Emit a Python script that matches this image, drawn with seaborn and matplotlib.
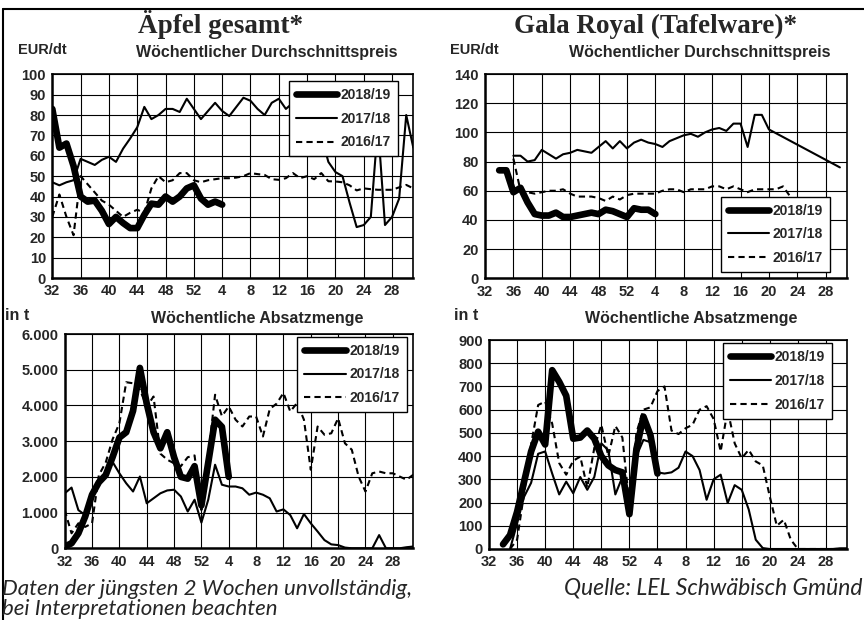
import numpy as np
import pandas as pd
import matplotlib
matplotlib.use("Agg")
import matplotlib.pyplot as plt
from matplotlib.lines import Line2D
from matplotlib.ticker import FuncFormatter
import seaborn as sns

# Season runs from KW 32 to KW 31 of the following year
weeks = list(range(32, 53)) + list(range(1, 32))
tick_weeks = [32, 36, 40, 44, 48, 52, 4, 8, 12, 16, 20, 24, 28]
seasons = ["2018/19", "2017/18", "2016/17"]
nan = np.nan

# Äpfel gesamt - Wöchentlicher Durchschnittspreis (EUR/dt), ab KW 32
apfel_preis_1819 = [83, 64, 66, 55, 40, 37.5, 38, 33, 26.5, 30, 27, 24.5, 24.5, 31, 36.5, 36,
                    40, 37.5, 40, 44, 45.5, 39, 36, 37.5, 36]
apfel_preis_1718 = [47, 45.5, 47, 48, 58.5, 57, 55.5, 58, 59.5, 57, 63.5, 68.5, 74, 84, 78, 80,
                    83, 83, 81.5, 88, 83, 78, 82, 86, 82, 79.5, 84, 88.5, 87, 83, 80, 86,
                    88, 83, 86, 85, 83, 80, 70, 57, 52, 50, 37, 25, 26, 30, 75, 26,
                    30, 39, 80, 64]
apfel_preis_1617 = [30, 41, 30, 21, 50, 46, 42, 38, 36, 33, 30, 32, 33.5, 32, 44, 50,
                    47, 48, 51.5, 51.5, 48, 47, 48, 48.5, 49, 49, 49.3, 50, 51.5, 51, 50.6, 48.5,
                    48.2, 49, 51.5, 49, 50, 48.5, 51.5, 47.5, 47.4, 47, 45.5, 43, 44, 43.6, 43.3, 43.3,
                    43.3, 44.5, 45.7, 44]

# Äpfel gesamt - Wöchentliche Absatzmenge (t), ab KW 32
apfel_menge_1819 = [50, 140, 420, 890, 1500, 1850, 2050, 2550, 3100, 3250, 3850, 5050, 4050,
                    3250, 2800, 3250, 2550, 2000, 1950, 2300, 1200, 2400, 3600, 3400, 2000]
apfel_menge_1718 = [1540, 1700, 1070, 930, 1600, 1900, 2050, 2420, 2100, 1820, 1590, 2010, 1260,
                    1400, 1540, 1620, 1640, 1450, 1030, 1360, 720, 1360, 2340, 1780, 1730, 1730,
                    1680, 1500, 1560, 1500, 1400, 1030, 1090, 930, 560, 960, 700, 470, 230,
                    110, 90, 20, 0, 0, 0, 0, 370, 0, 0, 0, 30, 50]
apfel_menge_1617 = [1070, 420, 700, 600, 700, 2050, 2400, 3050, 3500, 4650, 4620, 4440, 3970,
                    4250, 2650, 2480, 2380, 2300, 2550, 2600, 1070, 2600, 4300, 3700, 3970, 3600,
                    3410, 3690, 3690, 3130, 3900, 4050, 4350, 3830, 4070, 3600, 2200, 3410, 3180,
                    3220, 3640, 2940, 2760, 2010, 1590, 2100, 2150, 2100, 2100, 2010, 1920, 2060]

# Gala Royal (Tafelware) - Preis (EUR/dt)
gala_preis_1819_start = 34
gala_preis_1819 = [74, 74, 59, 62, 52, 44, 43, 43, 45, 42, 42, 43, 44, 45, 44, 47, 46, 44, 42,
                   48, 47, 47, 44]
gala_preis_1718_start = 36
gala_preis_1718 = [84, 84, 80, 81, 88, 85, 82, 85, 86, 88, 87, 86, 90, 94, 89, 94, 89, 93, 95,
                   93, 92, 90, 94, 96, 98, 99, 97, 100, 102, 103, 101, 106, 106, 90, 112, 112, 102,
                   nan, nan, nan, nan, nan, nan, nan, nan, nan, 76]
gala_preis_1617_start = 36
gala_preis_1617 = [82, 60, 59, 58, 59, 60, 60, 61, 58, 56, 56, 56, 55, 53, 56, 54, 57, 58, 58,
                   58, 58, 60, 61, 61, 59, 61, 61, 61, 63, 63, 61, 63, 61, 59, 61, 61, 61, 61,
                   63, 56]

# Gala Royal (Tafelware) - Absatzmenge (t)
gala_menge_1819_start = 34
gala_menge_1819 = [20, 60, 160, 290, 420, 505, 450, 770, 720, 660, 475, 480, 510, 475, 400, 360,
                   340, 330, 150, 430, 570, 490, 325]
gala_menge_1718_start = 35
gala_menge_1718 = [0, 110, 225, 285, 410, 420, 325, 235, 290, 240, 310, 255, 310, 455, 425, 235,
                   310, 200, 400, 470, 460, 330, 325, 330, 350, 420, 400, 340, 212, 300, 320,
                   198, 275, 255, 170, 40, 4, 0, 0, 0, 0, 0, 0, 0, 0, 0, 0, 3, 3]
gala_menge_1617_start = 35
gala_menge_1617 = [0, 40, 240, 450, 620, 635, 540, 370, 320, 380, 398, 265, 435, 535, 400, 530,
                   480, 190, 500, 600, 610, 680, 700, 510, 495, 520, 535, 600, 615, 560, 420,
                   600, 455, 391, 427, 377, 360, 226, 100, 126, 40, 0, 0, 0, 0, 0, 0, 0, 0]

W, H = 864, 620

sns.set_theme(style="white")
plt.rcParams["font.family"] = ["Liberation Sans", "DejaVu Sans"]
plt.rcParams["font.weight"] = "bold"

styles = {
    "2018/19": dict(linewidth=4.8, linestyle="-", zorder=5,
                    solid_capstyle="round", solid_joinstyle="round"),
    "2017/18": dict(linewidth=1.5, linestyle="-", zorder=4,
                    solid_capstyle="round", solid_joinstyle="round"),
    "2016/17": dict(linewidth=1.5, linestyle=(0, (3, 2)), zorder=3),
}


def season_frame(values, start_week=32):
    start = weeks.index(start_week)
    df = pd.DataFrame({"pos": np.arange(start, start + len(values)), "wert": values})
    return df.dropna()


def fig_axes(left, top, right, bottom):
    # pixel box -> figure fraction
    return fig.add_axes([left / W, 1 - bottom / H, (right - left) / W, (bottom - top) / H])


def draw_panel(ax, series, ymax, ystep, leg_loc, leg_anchor, thousands=False):
    for season in reversed(seasons):
        vals, start = series[season]
        sns.lineplot(data=season_frame(vals, start), x="pos", y="wert", ax=ax, color="black",
                     label=season, legend=False, **styles[season])
    ax.set_xlim(0, 51)
    ax.set_ylim(0, ymax)
    ax.set_xticks([weeks.index(w) for w in tick_weeks])
    ax.set_xticklabels([str(w) for w in tick_weeks])
    ax.set_yticks(np.arange(0, ymax + 1, ystep))
    if thousands:
        ax.yaxis.set_major_formatter(FuncFormatter(lambda v, p: f"{int(v):,}".replace(",", ".")))
    ax.grid(True, color="black", linewidth=0.8)
    ax.set_axisbelow(True)
    for sp in ax.spines.values():
        sp.set_color("black")
        sp.set_linewidth(1.2)
    ax.spines["left"].set_linewidth(1.8)
    ax.spines["bottom"].set_linewidth(1.8)
    ax.tick_params(axis="both", direction="out", length=3, width=1.2, color="black",
                   labelsize=10.5, pad=1.5)
    for lab in ax.get_xticklabels() + ax.get_yticklabels():
        lab.set_fontweight("bold")
    ax.set_xlabel("")
    ax.set_ylabel("")
    handles, labels = ax.get_legend_handles_labels()
    order = [labels.index(s) for s in seasons]
    leg = ax.legend([handles[i] for i in order], seasons, loc=leg_loc, bbox_to_anchor=leg_anchor,
                    frameon=True, fancybox=False, framealpha=1, edgecolor="black",
                    handlelength=3.0, handletextpad=0.25, labelspacing=0.7, borderpad=0.5,
                    borderaxespad=0, prop=dict(weight="bold", size=10))
    leg.get_frame().set_linewidth(1.0)
    leg.set_zorder(10)


fig = plt.figure(figsize=(W / 100, H / 100), dpi=100)

ax_tl = fig_axes(52.3, 74.3, 413.3, 278)
ax_tr = fig_axes(485, 74, 847, 278.3)
ax_bl = fig_axes(64.7, 334, 413.3, 548.3)
ax_br = fig_axes(489, 340, 847, 549)

draw_panel(ax_tl, {"2018/19": (apfel_preis_1819, 32), "2017/18": (apfel_preis_1718, 32),
                   "2016/17": (apfel_preis_1617, 32)},
           100, 10, "upper right", (0.958, 0.967))
draw_panel(ax_tr, {"2018/19": (gala_preis_1819, gala_preis_1819_start),
                   "2017/18": (gala_preis_1718, gala_preis_1718_start),
                   "2016/17": (gala_preis_1617, gala_preis_1617_start)},
           140, 20, "lower right", (0.953, 0.031))
draw_panel(ax_bl, {"2018/19": (apfel_menge_1819, 32), "2017/18": (apfel_menge_1718, 32),
                   "2016/17": (apfel_menge_1617, 32)},
           6000, 1000, "upper right", (0.981, 0.987), thousands=True)
draw_panel(ax_br, {"2018/19": (gala_menge_1819, gala_menge_1819_start),
                   "2017/18": (gala_menge_1718, gala_menge_1718_start),
                   "2016/17": (gala_menge_1617, gala_menge_1617_start)},
           900, 100, "upper right", (0.958, 0.984))


def ftext(px, py, s, **kw):
    fig.text(px / W, 1 - py / H, s, va="baseline", **kw)


title_font = dict(family=["Liberation Serif", "DejaVu Serif"], weight="bold", size=19.5)
ftext(221, 33, "Äpfel gesamt*", ha="center", **title_font)
ftext(656, 33, "Gala Royal (Tafelware)*", ha="center", **title_font)

ftext(18, 54, "EUR/dt", ha="left", size=10.5, weight="bold")
ftext(450, 54, "EUR/dt", ha="left", size=10.5, weight="bold")
ftext(267, 57, "Wöchentlicher Durchschnittspreis", ha="center", size=11.5, weight="bold")
ftext(700, 57, "Wöchentlicher Durchschnittspreis", ha="center", size=11.5, weight="bold")

ftext(5, 320, "in t", ha="left", size=11.5, weight="bold")
ftext(454, 320, "in t", ha="left", size=11.5, weight="bold")
ftext(257, 323, "Wöchentliche Absatzmenge", ha="center", size=11.5, weight="bold")
ftext(691, 323, "Wöchentliche Absatzmenge", ha="center", size=11.5, weight="bold")

note_font = dict(family=["Lato", "DejaVu Sans"], style="italic", weight="normal")
ftext(2, 595, "Daten der jüngsten 2 Wochen unvollständig,", ha="left", size=16, **note_font)
ftext(2, 615, "bei Interpretationen beachten", ha="left", size=16, **note_font)
ftext(862, 595, "Quelle: LEL Schwäbisch Gmünd", ha="right", size=16.5, **note_font)

# outer frame (top and left edge)
fig.add_artist(Line2D([3 / W, 3 / W], [0, 1 - 9 / H], color="black", lw=1.5,
                      transform=fig.transFigure))
fig.add_artist(Line2D([3 / W, 1], [1 - 9 / H, 1 - 9 / H], color="black", lw=1.5,
                      transform=fig.transFigure))

fig.savefig("out.png", dpi=100)
